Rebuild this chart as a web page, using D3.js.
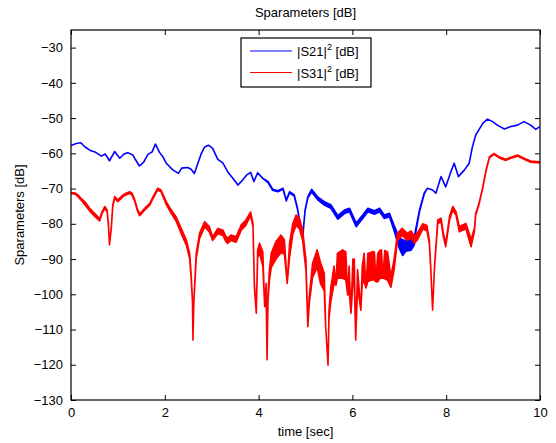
<!DOCTYPE html>
<html>
<head>
<meta charset="utf-8">
<script src="https://cdn.jsdelivr.net/npm/d3@7"></script>
<style>
  html, body { margin: 0; padding: 0; background: #fff; }
  svg { display: block; font-family: "Liberation Sans", Arial, Helvetica, sans-serif; }
</style>
</head>
<body>
<svg id="chart" width="556" height="443"></svg>
<script>
// Axis ticks
const xTicks = [0, 2, 4, 6, 8, 10];
const yTicks = [-130, -120, -110, -100, -90, -80, -70, -60, -50, -40, -30];

// |S21|^2 : time [s], upper edge of trace [dB], noise band depth [dB]
const s21Time = [0.00,0.11,0.21,0.30,0.40,0.51,0.65,0.73,0.82,0.93,1.04,1.13,1.21,1.32,1.38,1.46,1.55,1.64,1.73,1.80,1.89,1.96,2.03,2.17,2.29,2.36,2.49,2.56,2.63,2.70,2.78,2.85,2.93,3.02,3.13,3.24,3.34,3.45,3.56,3.66,3.75,3.83,3.90,3.98,4.09,4.20,4.30,4.41,4.52,4.59,4.66,4.76,4.83,4.91,4.94,4.99,5.05,5.13,5.26,5.40,5.54,5.69,5.83,5.94,6.08,6.22,6.33,6.47,6.58,6.68,6.79,6.89,7.00,7.07,7.14,7.25,7.32,7.35,7.43,7.53,7.60,7.71,7.78,7.89,7.99,8.10,8.17,8.26,8.39,8.49,8.56,8.63,8.78,8.88,8.99,9.09,9.24,9.38,9.52,9.66,9.80,9.91,10.00];
const s21Top = [-57.8,-57.2,-57.0,-58.2,-59.1,-59.6,-60.8,-60.2,-62.1,-59.5,-61.4,-60.2,-59.8,-60.5,-61.9,-63.6,-62.5,-60.3,-59.6,-57.4,-59.8,-61.0,-62.8,-64.7,-65.7,-64.2,-64.0,-64.5,-65.7,-63.0,-60.0,-58.2,-57.7,-58.6,-61.7,-62.8,-65.2,-67.1,-69.0,-67.6,-66.1,-65.4,-68.0,-65.5,-67.1,-68.0,-70.2,-70.6,-69.9,-73.2,-70.9,-71.8,-75.6,-81.8,-83.7,-76.1,-72.3,-70.2,-72.4,-73.7,-74.6,-77.7,-76.1,-75.6,-79.8,-77.5,-75.6,-76.3,-75.6,-77.5,-77.0,-80.5,-84.0,-84.5,-84.8,-84.5,-84.0,-81.5,-76.1,-71.3,-69.9,-70.4,-71.3,-66.6,-69.5,-65.2,-62.8,-66.6,-64.7,-62.8,-58.1,-54.8,-51.5,-50.3,-51.0,-52.0,-53.1,-52.4,-52.0,-51.0,-52.0,-53.2,-52.4];
const s21Depth = [0,0,0,0,0,0,0,0,0,0,0,0,0,0,0,0,0,0,0,0,0,0,0,0,0,0,0,0,0,0,0,0,0,0,0,0,0,0,0,0,0,0,0,0,0,0.3,0.3,0.3,0.3,0.3,0.3,0.3,0.3,0.3,0.3,0.3,0.3,0.8,0.8,1.0,1.0,1.0,1.0,1.0,1.0,1.0,1.0,1.0,1.0,1.0,1.0,1.5,3.0,4.5,3.0,3.0,2.0,1.0,0.5,0.3,0,0,0,0,0,0,0,0,0,0,0,0,0,0,0,0,0,0,0,0,0,0,0];

// |S31|^2 : time [s], upper edge of trace [dB], noise band depth [dB]
const s31Time = [0.00,0.09,0.15,0.21,0.29,0.40,0.47,0.54,0.61,0.66,0.72,0.77,0.80,0.82,0.86,0.89,0.93,1.00,1.11,1.17,1.25,1.30,1.36,1.41,1.46,1.51,1.57,1.68,1.75,1.85,1.92,2.03,2.14,2.24,2.35,2.46,2.53,2.56,2.59,2.60,2.62,2.67,2.74,2.85,2.95,3.02,3.13,3.24,3.30,3.34,3.41,3.52,3.63,3.73,3.83,3.88,3.91,3.95,3.98,4.02,4.09,4.13,4.16,4.18,4.20,4.23,4.27,4.37,4.48,4.55,4.61,4.66,4.73,4.80,4.87,4.94,5.01,5.05,5.08,5.15,5.25,5.32,5.40,5.43,5.48,5.50,5.54,5.61,5.65,5.68,5.79,5.86,5.90,5.93,5.97,6.01,6.04,6.07,6.11,6.18,6.21,6.25,6.29,6.33,6.43,6.47,6.50,6.54,6.58,6.62,6.65,6.69,6.75,6.82,6.89,6.96,7.06,7.17,7.25,7.32,7.39,7.50,7.59,7.64,7.67,7.71,7.75,7.82,7.89,7.94,7.99,8.07,8.14,8.21,8.28,8.35,8.42,8.49,8.53,8.60,8.63,8.70,8.78,8.85,8.92,9.02,9.13,9.27,9.38,9.52,9.66,9.80,10.00];
const s31Top = [-71.1,-71.3,-71.8,-72.7,-73.7,-75.6,-76.6,-77.5,-78.6,-76.6,-75.1,-76.1,-80.3,-86.0,-80.8,-74.7,-72.3,-73.2,-71.8,-71.3,-70.9,-71.3,-73.2,-75.5,-77.2,-76.6,-75.6,-74.2,-72.3,-69.9,-70.4,-73.7,-76.1,-78.0,-81.3,-84.6,-88.4,-94.0,-101.6,-113.0,-101.6,-88.4,-82.7,-79.4,-80.8,-83.7,-81.3,-81.8,-83.5,-84.1,-83.2,-83.7,-80.3,-78.9,-76.6,-79.9,-96.9,-105.4,-87.4,-85.5,-88.0,-103.5,-96.9,-118.6,-100.0,-93.1,-88.4,-85.0,-83.2,-84.6,-96.9,-85.5,-79.9,-77.5,-78.4,-81.8,-90.3,-109.2,-100.7,-91.2,-87.4,-91.0,-94.0,-109.2,-120.1,-105.0,-98.0,-92.0,-97.4,-88.4,-87.4,-88.0,-100.2,-92.0,-105.4,-90.0,-90.0,-113.0,-93.0,-104.5,-92.0,-88.4,-98.2,-88.4,-87.9,-88.0,-96.4,-88.5,-87.6,-87.4,-95.4,-87.6,-88.0,-95.0,-90.0,-82.7,-81.3,-82.7,-82.0,-83.5,-82.5,-80.0,-80.5,-84.6,-92.2,-104.5,-92.2,-78.9,-78.4,-82.7,-85.5,-78.0,-75.1,-76.6,-80.8,-80.3,-79.9,-82.7,-84.5,-81.3,-77.0,-74.2,-69.5,-64.7,-61.0,-60.0,-61.0,-61.7,-61.1,-60.5,-61.4,-62.2,-62.4];
const s31Depth = [0.3,0.3,0.5,0.5,0.8,0.8,0.8,0.8,0.6,0.5,0.5,0.5,0.5,0,0.5,0.5,0.5,0.5,0.5,0.5,0.5,0.5,0.5,0.5,0.5,0.5,0.5,0.5,0.5,0.5,0.5,0.8,1.0,1.2,1.5,1.5,1.5,1.0,0.5,0,0.5,1.5,1.5,1.5,1.5,1.0,1.5,1.5,1.5,1.5,1.5,1.5,1.5,1.5,1.0,1.0,1.0,0,2.0,3.0,4.0,0,2.0,0,2.0,3.0,4.0,5.0,5.0,4.0,0,4.0,3.0,3.0,3.0,3.0,3.0,0,2.0,4.0,5.0,6.0,5.0,0,0,2.0,4.0,5.0,0,7.0,8.0,8.0,0,7.0,0,7.0,6.0,0,5.0,0,5.0,8.0,0,8.0,8.0,8.0,0,8.0,8.0,8.0,0,8.0,8.0,3.0,3.0,2.0,2.0,2.0,2.0,2.0,2.0,1.5,1.5,1.0,0.5,0,0.5,1.0,1.0,1.0,1.0,1.0,1.0,1.0,1.5,1.5,1.5,2.0,2.0,1.0,0.5,0.3,0.3,0.3,0.3,0.3,0.3,0.3,0.3,0.3,0.3,0.3,0.3];

const seriesNames = ["|S21|", "|S31|"];
const seriesColors = ["#0000ff", "#ff0000"];

const svg = d3.select("#chart");
const margin = { left: 71, right: 16, top: 30, bottom: 43 };
const W = 556, H = 443;

const x = d3.scaleLinear().domain([0, 10]).range([margin.left, W - margin.right]);
const y = d3.scaleLinear().domain([-130, -25]).range([H - margin.bottom, margin.top]);

svg.append("defs").append("clipPath").attr("id", "plotClip")
  .append("rect")
  .attr("x", x(0)).attr("y", y(-25))
  .attr("width", x(10) - x(0)).attr("height", y(-130) - y(-25));

svg.append("rect")
  .attr("x", x(0)).attr("y", y(-25))
  .attr("width", x(10) - x(0)).attr("height", y(-130) - y(-25))
  .attr("fill", "#fff");

// Traces drawn as filled bands (upper edge down to upper edge minus depth)
function band(times, tops, depths) {
  return times.map((t, i) => ({ t, hi: tops[i], lo: tops[i] - depths[i] }));
}
const traces = [band(s21Time, s21Top, s21Depth), band(s31Time, s31Top, s31Depth)];

const area = d3.area()
  .x(d => x(d.t))
  .y0(d => y(d.lo))
  .y1(d => y(d.hi));

const plot = svg.append("g").attr("clip-path", "url(#plotClip)");
traces.forEach((data, i) => {
  plot.append("path")
    .datum(data)
    .attr("d", area)
    .attr("fill", seriesColors[i])
    .attr("stroke", seriesColors[i])
    .attr("stroke-width", 1.6)
    .attr("stroke-linejoin", "round");
});

// Axes with inward ticks on all four sides
const tickLen = 5;
const axisFont = 13;
const xAxisB = d3.axisBottom(x).tickValues(xTicks).tickSizeInner(-tickLen).tickSizeOuter(0).tickPadding(8).tickFormat(d3.format("d"));
const xAxisT = d3.axisTop(x).tickValues(xTicks).tickSizeInner(-tickLen).tickSizeOuter(0).tickFormat("");
const yAxisL = d3.axisLeft(y).tickValues(yTicks).tickSizeInner(-tickLen).tickSizeOuter(0).tickPadding(8).tickFormat(d3.format("d"));
const yAxisR = d3.axisRight(y).tickValues(yTicks).tickSizeInner(-tickLen).tickSizeOuter(0).tickFormat("");

function styleAxis(g) {
  g.select(".domain").remove();
  g.selectAll("line").attr("stroke", "#000").attr("stroke-width", 1);
  g.selectAll("text").attr("fill", "#000").attr("font-size", axisFont).attr("font-family", "Liberation Sans, Arial, sans-serif");
}
svg.append("g").attr("transform", `translate(0,${y(-130)})`).call(xAxisB).call(styleAxis);
svg.append("g").attr("transform", `translate(0,${y(-25)})`).call(xAxisT).call(styleAxis);
svg.append("g").attr("transform", `translate(${x(0)},0)`).call(yAxisL).call(styleAxis);
svg.append("g").attr("transform", `translate(${x(10)},0)`).call(yAxisR).call(styleAxis);

// Plot frame
svg.append("rect")
  .attr("x", x(0)).attr("y", y(-25))
  .attr("width", x(10) - x(0)).attr("height", y(-130) - y(-25))
  .attr("fill", "none").attr("stroke", "#000").attr("stroke-width", 1.2);

// Titles
svg.append("text").attr("x", (x(0) + x(10)) / 2).attr("y", 17)
  .attr("text-anchor", "middle").attr("font-size", 13).text("Sparameters [dB]");
svg.append("text").attr("x", (x(0) + x(10)) / 2).attr("y", 436)
  .attr("text-anchor", "middle").attr("font-size", 13).text("time [sec]");
svg.append("text")
  .attr("transform", `translate(24,${(y(-25) + y(-130)) / 2}) rotate(-90)`)
  .attr("text-anchor", "middle").attr("font-size", 13).text("Sparameters [dB]");

// Legend
const lg = svg.append("g").attr("transform", "translate(241,38)");
lg.append("rect").attr("width", 130).attr("height", 49)
  .attr("fill", "#fff").attr("stroke", "#000").attr("stroke-width", 1.2);
seriesNames.forEach((name, i) => {
  const cy = 13 + i * 21.5;
  lg.append("line").attr("x1", 9).attr("x2", 51).attr("y1", cy).attr("y2", cy)
    .attr("stroke", seriesColors[i]).attr("stroke-width", 1);
  const t = lg.append("text").attr("x", 56).attr("y", cy + 5).attr("font-size", 13);
  t.append("tspan").text(name);
  t.append("tspan").attr("dy", -6).attr("font-size", 9).text("2");
  t.append("tspan").attr("dy", 6).text(" [dB]");
});
</script>
</body>
</html>
